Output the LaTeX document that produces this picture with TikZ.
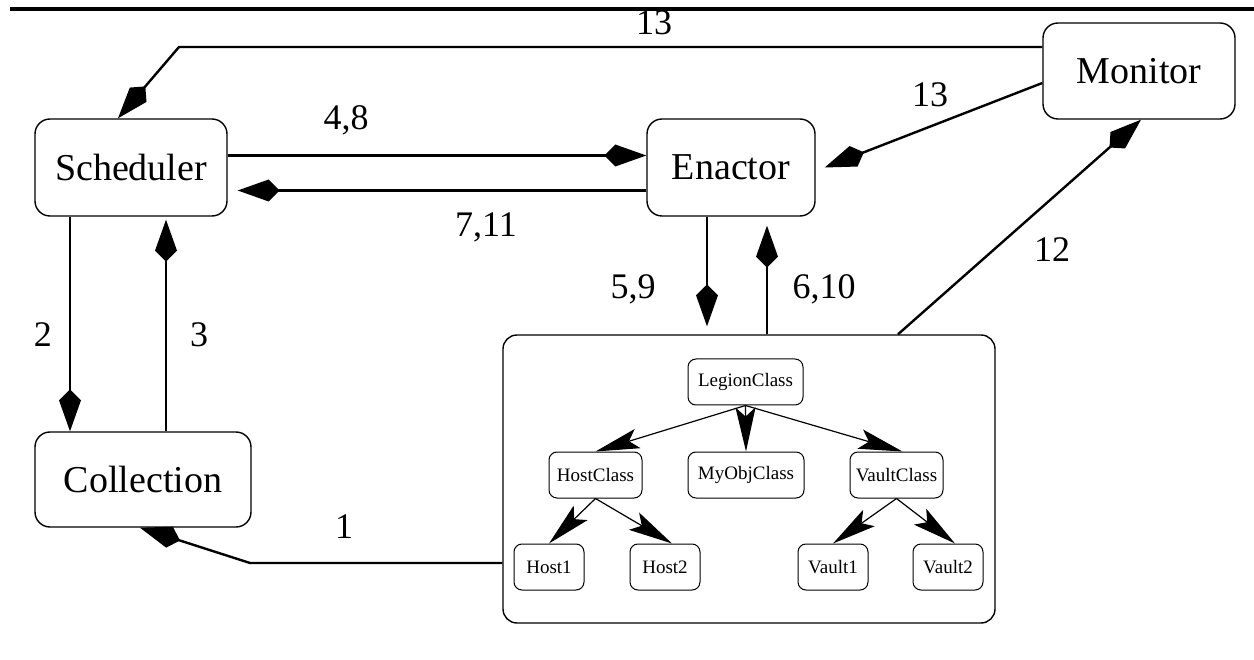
\documentclass[tikz,border=0pt]{standalone}
\usepackage{fontspec}
\setmainfont{Liberation Serif}
\usetikzlibrary{arrows.meta,calc}
\begin{document}
\begin{tikzpicture}[x=1pt,y=-1pt,
  bigbox/.style={draw, rounded corners=15pt, line width=1.4pt, inner sep=0pt, font=\fontsize{38}{40}\selectfont},
  smallbox/.style={draw, rounded corners=8pt, line width=1pt, inner sep=0pt, minimum height=46pt, font=\fontsize{19}{21}\selectfont},
  conn/.style={line width=2.4pt, -{Kite[length=42pt,width=22pt,inset=11pt]}},
  tree/.style={line width=1.2pt, -{Stealth[length=44pt,width=20pt,inset=9pt]}},
  lbl/.style={anchor=base, inner sep=0pt, font=\fontsize{36}{38}\selectfont}]
\useasboundingbox (0,0) rectangle (1254,660);
% top rule
\coordinate (r1) at (10,9);
\coordinate (r2) at (1254,9);
\draw[line width=4pt] (r1) -- (r2);
% main nodes
\node[bigbox, minimum width=192pt, minimum height=97pt] (Scheduler) at (131,167.5) {Scheduler};
\node[bigbox, minimum width=168pt, minimum height=97pt] (Enactor) at (731,167.5) {Enactor};
\node[bigbox, minimum width=192pt, minimum height=96pt] (Monitor) at (1139,71) {Monitor};
\node[bigbox, minimum width=216pt, minimum height=95pt] (Collection) at (143,479.5) {Collection};
\node[draw, rounded corners=14pt, line width=1.4pt, minimum width=492pt, minimum height=288pt] (Legion) at (749,479) {};
% inner nodes
\node[smallbox, minimum width=115pt] (LegionClass) at (745.5,382) {LegionClass};
\node[smallbox, minimum width=93pt] (HostClass) at (595.5,475) {HostClass};
\node[smallbox, minimum width=116pt] (MyObjClass) at (746,475) {MyObjClass};
\node[smallbox, minimum width=93pt] (VaultClass) at (896.5,475) {VaultClass};
\node[smallbox, minimum width=70pt] (Host1) at (549,567) {Host1};
\node[smallbox, minimum width=70pt] (Host2) at (665,567) {Host2};
\node[smallbox, minimum width=70pt] (Vault1) at (833,567) {Vault1};
\node[smallbox, minimum width=70pt] (Vault2) at (948,567) {Vault2};
% inner arrows
\draw[tree] (LegionClass.south) -- (HostClass.north);
\draw[tree] (LegionClass.south) -- (MyObjClass.north);
\draw[tree] (LegionClass.south) -- ([xshift=6pt]VaultClass.north);
\draw[tree] (HostClass.south) -- (Host1.north);
\draw[tree] (HostClass.south) -- ([xshift=7pt]Host2.north);
\draw[tree] (VaultClass.south) -- (Vault1.north);
\draw[tree] (VaultClass.south) -- ([xshift=7pt]Vault2.north);
% connectors
\coordinate (t13) at (179,47);
\coordinate (c1) at (250,563);
\draw[conn] ([yshift=24pt]Monitor.west) -- (t13) -- ([xshift=-13pt]Scheduler.north);
\draw[conn] ([yshift=12pt]Scheduler.east) -- ([yshift=12pt]Enactor.west);
\draw[conn] ([yshift=-23pt]Enactor.west) -- ([xshift=10pt,yshift=-23pt]Scheduler.east);
\draw[conn] ([xshift=-24pt]Enactor.south) -- ([xshift=-42pt,yshift=8pt]Legion.north);
\draw[conn] ([xshift=18pt]Legion.north) -- ([xshift=36pt,yshift=-9pt]Enactor.south);
\draw[conn] ([xshift=149pt]Legion.north) -- ([xshift=2pt]Monitor.south);
\draw[conn] ([yshift=-12pt]Monitor.west) -- ([xshift=9pt]Enactor.east);
\draw[conn] ([xshift=-61pt]Scheduler.south) -- ([xshift=-73pt]Collection.north);
\draw[conn] ([xshift=23pt]Collection.north) -- ([xshift=35pt,yshift=-3pt]Scheduler.south);
\draw[conn] ([yshift=-84pt]Legion.west) -- (c1) -- ([xshift=-3pt]Collection.south);
% labels
\node[lbl] (l13a) at (654,35) {13};
\node[lbl] (l48) at (346,130) {4,8};
\node[lbl] (l711) at (486,237) {7,11};
\node[lbl] (l59) at (633,299) {5,9};
\node[lbl] (l610) at (824,299) {6,10};
\node[lbl] (l12) at (1052,262) {12};
\node[lbl] (l13b) at (930,107) {13};
\node[lbl] (l2) at (43,347) {2};
\node[lbl] (l3) at (199,347) {3};
\node[lbl] (l1) at (344,538) {1};
\end{tikzpicture}
\end{document}
